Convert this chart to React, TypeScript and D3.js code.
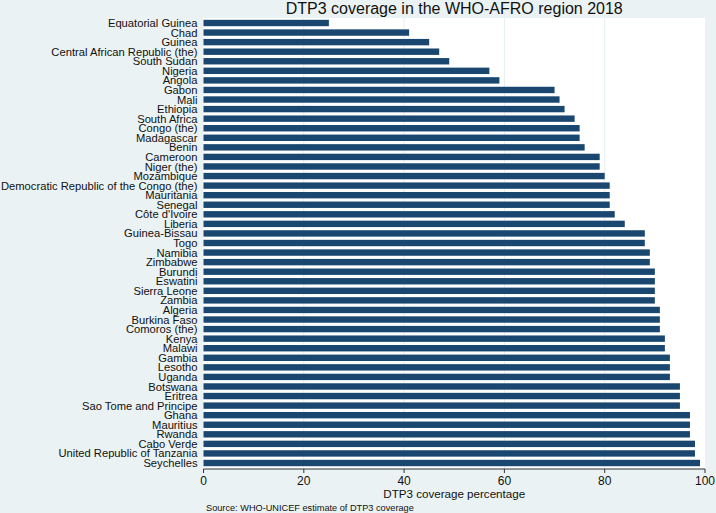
import React from "react";
import * as d3 from "d3";

const countries = [
  "Equatorial Guinea", "Chad", "Guinea", "Central African Republic (the)", "South Sudan",
  "Nigeria", "Angola", "Gabon", "Mali", "Ethiopia", "South Africa", "Congo (the)",
  "Madagascar", "Benin", "Cameroon", "Niger (the)", "Mozambique",
  "Democratic Republic of the Congo (the)", "Mauritania", "Senegal", "Côte d'Ivoire",
  "Liberia", "Guinea-Bissau", "Togo", "Namibia", "Zimbabwe", "Burundi", "Eswatini",
  "Sierra Leone", "Zambia", "Algeria", "Burkina Faso", "Comoros (the)", "Kenya", "Malawi",
  "Gambia", "Lesotho", "Uganda", "Botswana", "Eritrea", "Sao Tome and Principe", "Ghana",
  "Mauritius", "Rwanda", "Cabo Verde", "United Republic of Tanzania", "Seychelles",
];
const coverage = [
  25, 41, 45, 47, 49, 57, 59, 70, 71, 72, 74, 75, 75, 76, 79, 79, 80, 81, 81, 81, 82, 84,
  88, 88, 89, 89, 90, 90, 90, 90, 91, 91, 91, 92, 92, 93, 93, 93, 95, 95, 95, 97, 97, 97,
  98, 98, 99,
];
const xTicks = [0, 20, 40, 60, 80, 100];
const titleText = "DTP3 coverage in the WHO-AFRO region 2018";
const xTitle = "DTP3 coverage percentage";
const sourceText = "Source: WHO-UNICEF estimate of DTP3 coverage";

export default function App() {
  const W = 716, H = 513;
  const left = 203.5, right = 705, top = 18, bottom = 469;
  const x = d3.scaleLinear().domain([0, 100]).range([left, right]);
  const y = d3.scalePoint<string>().domain(countries).range([23, 463]);
  const barH = 6.4;
  const font = "'Liberation Sans', Arial, sans-serif";
  return (
    <svg width={W} height={H} style={{ position: "absolute", left: 0, top: 0 }} fontFamily={font}>
      <rect x={0} y={0} width={W} height={H} fill="#eaf2f3" />
      <rect x={left} y={top} width={right - left} height={bottom - top} fill="#ffffff" />
      {xTicks.filter((t) => t > 0 && t < 100).map((t) => (
        <line key={"g" + t} x1={x(t)} x2={x(t)} y1={top} y2={bottom} stroke="#e6eef0" strokeWidth={1} />
      ))}
      {countries.map((c, i) => (
        <rect key={c} x={x(0)} y={(y(c) as number) - barH / 2} width={x(coverage[i]) - x(0)} height={barH} fill="#1a476f" />
      ))}
      {countries.map((c) => (
        <text key={"l" + c} x={197.5} y={y(c) as number} dy="0.36em" textAnchor="end" fontSize={11.2} fill="#111">
          {c}
        </text>
      ))}
      <line x1={left} x2={right} y1={bottom} y2={bottom} stroke="#333" strokeWidth={1} />
      {xTicks.map((t) => (
        <g key={"t" + t}>
          <line x1={x(t)} x2={x(t)} y1={bottom} y2={bottom + 4} stroke="#333" strokeWidth={1} />
          <text x={x(t)} y={485} textAnchor="middle" fontSize={12} fill="#111">{t}</text>
        </g>
      ))}
      <text x={(left + right) / 2} y={497.5} textAnchor="middle" fontSize={11.6} fill="#111">{xTitle}</text>
      <text x={206} y={511} fontSize={9.2} fill="#111">{sourceText}</text>
      <text x={(left + right) / 2} y={14} textAnchor="middle" fontSize={16} fill="#111">{titleText}</text>
    </svg>
  );
}
